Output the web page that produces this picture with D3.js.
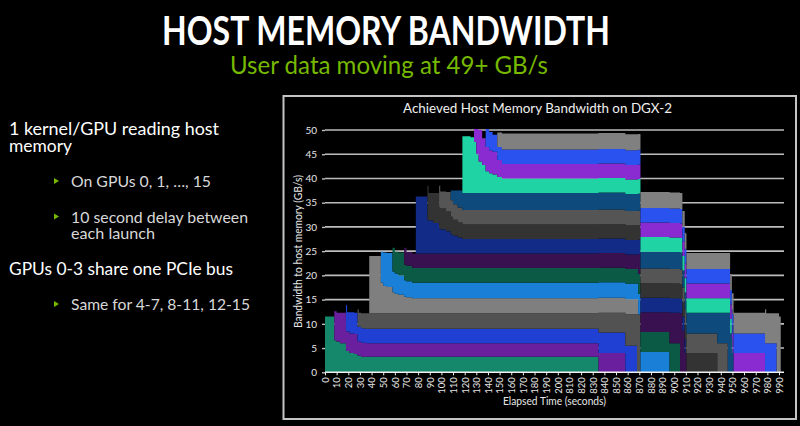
<!DOCTYPE html>
<html><head><meta charset="utf-8">
<script src="https://cdn.jsdelivr.net/npm/d3@7"></script>
<style>
html,body{margin:0;padding:0;background:#000;}
svg{display:block;}
text{font-family:Lato,"Open Sans",sans-serif;}
</style></head><body>
<svg id="c" width="800" height="426"></svg>
<script>
// ---------- data (per-GPU step series: [time s, GB/s from that time on]) ----------
const gpu0  = [[0,11.5],[8,6.6],[10,6.3],[13,6.0],[18,4.4],[21,4.0],[25,3.8],[28,3.4],[31,3.2],[835,0]];
const gpu1  = [[8,6.0],[13,6.3],[18,4.0],[25,4.1],[28,3.0],[31,2.9],[35,2.8],[835,4.0],[858,0]];
const gpu2  = [[18,5.5],[19,4.0],[21,4.4],[28,3.0],[835,4.2],[858,5.5],[868,0]];
const gpu3  = [[28,3.6],[29,2.9],[31,3.1],[35,3.2],[835,4.1],[858,6.5],[868,12.0],[871,0]];
const gpu4  = [[38,11.8],[48,6.3],[50,5.6],[53,5.4],[58,4.3],[60,4.0],[63,3.8],[68,3.4],[70,3.3],[75,3.1],[869,0]];
const gpu5  = [[48,6.4],[50,6.9],[53,7.0],[58,4.3],[60,4.2],[63,4.0],[68,3.4],[70,3.3],[75,3.2],[869,4.2],[896,0]];
const gpu6  = [[58,4.9],[60,4.5],[63,4.7],[68,3.2],[75,3.0],[869,4.1],[896,6.0],[905,0]];
const gpu7  = [[68,3.5],[70,2.8],[75,3.0],[869,4.1],[896,6.3],[905,12.2],[907,8.5],[909,4.0],[910.5,0]];
const gpu8  = [[78,11.8],[88,7.0],[89,6.8],[93,6.3],[98,5.2],[99,5.0],[104,4.6],[108,4.0],[110,3.7],[114,3.3],[118,3.0],[910,0]];
const gpu9  = [[88,7.0],[89,5.7],[93,6.2],[98,4.3],[104,4.1],[108,3.6],[110,3.3],[114,3.1],[118,3.0],[910,4.0],[937,0]];
const gpu10 = [[98,4.5],[99,3.5],[104,4.0],[108,3.4],[110,3.2],[114,3.1],[118,3.0],[910,4.0],[937,6.0],[946,0]];
const gpu11 = [[108,2.0],[110,2.8],[114,3.5],[910,4.3],[937,6.3],[946,12.3],[948,8.0],[949.5,4.0],[951,0]];
const gpu12 = [[118,11.7],[125,11.5],[128,10.5],[130,8.0],[132,6.5],[135,5.8],[138,4.5],[141,4.1],[144,3.8],[148,3.3],[152,3.0],[950,0]];
const gpu13 = [[128,2.7],[130,5.2],[132,6.5],[135,5.5],[138,5.0],[141,4.7],[148,3.5],[152,3.0],[950,4.0],[978,0]];
const gpu14 = [[138,3.7],[141,3.8],[144,3.5],[148,2.7],[152,3.0],[950,4.0],[978,6.0],[988,0]];
const gpu15 = [[148,3.0],[152,3.3],[950,4.3],[978,7.0],[979,6.2],[988,12.2],[990,11.5],[991.5,0]];

const gpuSeries = [gpu0,gpu1,gpu2,gpu3,gpu4,gpu5,gpu6,gpu7,gpu8,gpu9,gpu10,gpu11,gpu12,gpu13,gpu14,gpu15];
const gpuColors = ["#15876b","#6a1f9e","#1f40d2","#525252","#7f7f7f","#1a7fd6","#0b5a45","#3a1150",
                   "#122b86","#333333","#555555","#0e4b7c","#1fd3a4","#8a2bd2","#2a52ef","#808080"];

const xTicks = [0,10,20,30,40,50,60,70,80,90,100,110,120,130,140,150,160,170,180,190,200,
                810,820,830,840,850,860,870,880,890,900,910,920,930,940,950,960,970,980,990];
const yTicks = [0,5,10,15,20,25,30,35,40,45,50];

const pageTitle = "HOST MEMORY BANDWIDTH";
const pageSubtitle = "User data moving at 49+ GB/s";
const chartTitle = "Achieved Host Memory Bandwidth on DGX-2";
const xTitle = "Elapsed Time (seconds)";
const yTitle = "Bandwidth to host memory (GB/s)";

// ---------- build stack table ----------
const keys = gpuSeries.map((s,i)=>"g"+i);
const times = Array.from(new Set(gpuSeries.flatMap(s=>s.map(p=>p[0])))).sort((a,b)=>a-b);
function valueAt(s,t){let v=0;for(const p of s){if(p[0]<=t)v=p[1];else break;}return v;}
const table = times.map(t=>{const r={t};gpuSeries.forEach((s,i)=>r["g"+i]=valueAt(s,t));return r;});
const layers = d3.stack().keys(keys)(table);

// ---------- layout ----------
const svg = d3.select("#c");
svg.append("rect").attr("width",800).attr("height",426).attr("fill","#000");

svg.append("text").attr("x",162).attr("y",45).attr("fill","#fff")
  .attr("font-size",41).attr("font-weight",700)
  .attr("textLength",448).attr("lengthAdjust","spacingAndGlyphs").text(pageTitle);
svg.append("text").attr("x",230).attr("y",74).attr("fill","#76b900")
  .attr("font-size",25)
  .attr("textLength",318).attr("lengthAdjust","spacingAndGlyphs").text(pageSubtitle);

// left text
const mainLines = [
  {t:"1 kernel/GPU reading host", y:134.5, w:210},
  {t:"memory", y:152, w:63},
  {t:"GPUs 0-3 share one PCIe bus", y:275, w:224}
];
const subLines = [
  {t:"On GPUs 0, 1, …, 15", y:187, w:140, bullet:true},
  {t:"10 second delay between", y:222.5, w:177, bullet:true},
  {t:"each launch", y:238.5, w:84, bullet:false},
  {t:"Same for 4-7, 8-11, 12-15", y:310, w:179, bullet:true}
];
mainLines.forEach(d=>svg.append("text").attr("x",9).attr("y",d.y).attr("fill","#fff")
  .attr("font-size",16.5).attr("textLength",d.w).attr("lengthAdjust","spacingAndGlyphs").text(d.t));
subLines.forEach(d=>{
  svg.append("text").attr("x",71).attr("y",d.y).attr("fill","#d8d8d8")
    .attr("font-size",15).attr("textLength",d.w).attr("lengthAdjust","spacingAndGlyphs").text(d.t);
  if(d.bullet) svg.append("path")
    .attr("d",`M54,${d.y-9}L59,${d.y-6}L54,${d.y-3}Z`).attr("fill","#76b900");
});

// chart frame
svg.append("rect").attr("x",283.5).attr("y",96).attr("width",512.5).attr("height",323)
  .attr("fill","#000").attr("stroke","#c4c4c4").attr("stroke-width",2);

svg.append("text").attr("x",537.5).attr("y",113).attr("text-anchor","middle").attr("fill","#f0f0f0")
  .attr("font-size",13).attr("textLength",269).attr("lengthAdjust","spacingAndGlyphs").text(chartTitle);

// scales
const step = (779-325)/39;
const x = d3.scaleLinear().domain([0,200,810,990]).range([325,325+20*step,325+21*step,779]);
const y = d3.scaleLinear().domain([0,50]).range([372.3,130]);
const plotRight = 784;

// gridlines
svg.append("g").selectAll("line").data(yTicks.filter(v=>v>0)).join("line")
  .attr("x1",325).attr("x2",plotRight).attr("y1",d=>y(d)).attr("y2",d=>y(d))
  .attr("stroke","#bdbdbd").attr("stroke-width",1.6);

// areas
const area = d3.area().curve(d3.curveStepAfter)
  .x(d=>x(d.data.t)).y0(d=>y(d[0])).y1(d=>y(d[1]));
svg.append("g").selectAll("path").data(layers).join("path")
  .attr("d",area).attr("fill",(d,i)=>gpuColors[i]);

// y axis
const ya = svg.append("g").attr("transform","translate(325,0)")
  .call(d3.axisLeft(y).tickValues(yTicks).tickSize(3).tickPadding(5));
ya.select(".domain").remove();
ya.selectAll("line").attr("stroke","#bdbdbd").attr("stroke-width",1.4);
ya.selectAll("text").attr("fill","#e6e6e6").attr("font-size",10).attr("font-family","Lato");

// x axis
const xa = svg.append("g").attr("transform","translate(0,372.3)")
  .call(d3.axisBottom(x).tickValues(xTicks).tickSize(3).tickFormat(d=>String(d)));
xa.select(".domain").remove();
xa.append("line").attr("x1",325).attr("x2",plotRight).attr("y1",0).attr("y2",0)
  .attr("stroke","#f0f0f0").attr("stroke-width",1.6);
xa.selectAll(".tick line").attr("stroke","#f0f0f0").attr("stroke-width",1);
xa.selectAll("text").attr("transform","rotate(-90)").attr("x",-5).attr("y",0).attr("dy","0.35em")
  .attr("text-anchor","end").attr("fill","#e6e6e6").attr("font-size",9.5).attr("font-family","Lato");

// axis titles
svg.append("text").attr("x",554.5).attr("y",405).attr("text-anchor","middle").attr("fill","#e6e6e6")
  .attr("font-size",10.5).attr("textLength",103).attr("lengthAdjust","spacingAndGlyphs").text(xTitle);
svg.append("text").attr("transform","translate(302,251.5) rotate(-90)").attr("text-anchor","middle")
  .attr("fill","#e6e6e6").attr("font-size",10.5).attr("textLength",153).attr("lengthAdjust","spacingAndGlyphs").text(yTitle);
</script>
</body></html>
